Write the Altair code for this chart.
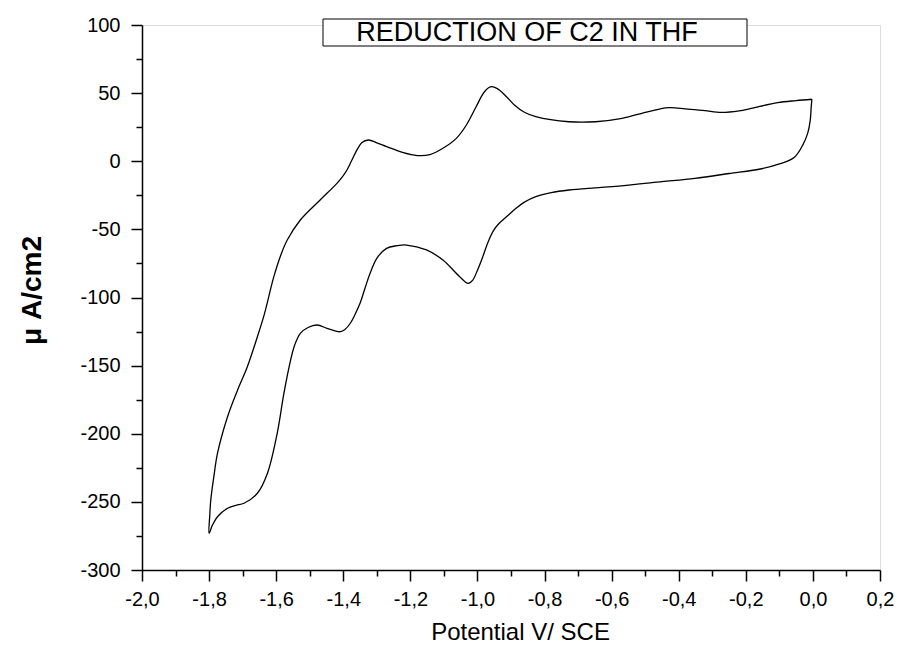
import altair as alt
import pandas as pd

# Cathodic (forward) sweep: 0.0 V -> -1.8 V
fwd_E = [-0.003, -0.005, -0.008, -0.015, -0.03, -0.055, -0.1, -0.153, -0.25, -0.352,
         -0.45, -0.579, -0.65, -0.727, -0.78, -0.826, -0.86, -0.885, -0.91, -0.935,
         -0.95, -0.968, -0.984, -1.0, -1.014, -1.028, -1.053, -1.103,
         -1.152, -1.211, -1.24, -1.271, -1.3, -1.32, -1.335, -1.35, -1.365, -1.379,
         -1.395, -1.409, -1.425, -1.449, -1.478, -1.505, -1.528, -1.545, -1.557, -1.577,
         -1.597, -1.626, -1.656, -1.696, -1.72, -1.745, -1.775, -1.79, -1.8]
fwd_I = [45.5, 40, 30, 21, 12, 3, -2, -5.5, -9, -12.5,
         -15, -18.2, -19.5, -21.1, -23, -26, -30, -34.5, -40, -45.5,
         -50, -59, -70, -80, -87.2, -89.6, -84.7, -72.5,
         -65.1, -61.5, -62, -63.9, -71.2, -82.2, -93, -104.3, -112.5, -118.9,
         -123.5, -125.1, -124.5, -122.6, -120.2, -122, -126.3, -135, -145.9, -170.3,
         -199.7, -229, -243.7, -251, -252.5, -254.7, -260.9, -267, -273]

# Anodic (return) sweep: -1.8 V -> 0.0 V
rev_E = [-1.798, -1.795, -1.785, -1.775, -1.745, -1.715, -1.686, -1.656, -1.635, -1.607,
         -1.585, -1.567, -1.528, -1.469, -1.419, -1.4, -1.389, -1.375, -1.36, -1.345,
         -1.325, -1.3, -1.271, -1.221, -1.18, -1.142, -1.103, -1.063, -1.033, -1.004,
         -0.979, -0.959, -0.935, -0.912, -0.89, -0.86, -0.826, -0.727, -0.648, -0.569,
         -0.49, -0.431, -0.38, -0.322, -0.273, -0.22, -0.184, -0.105, -0.05, -0.003]
rev_I = [-260, -248.6, -230, -214.4, -187.5, -167.9, -150.8, -128.8, -112, -84.7,
         -68, -57.8, -43.1, -28.4, -16.2, -10.5, -6.4, 0.5, 8, 13.5,
         15.6, 13.5, 10.7, 6.3, 4.2, 4.8, 9.5, 16.8, 26.6, 40,
         51, 54.7, 52.3, 47, 41.3, 36, 32.7, 29, 29, 31.5,
         36.4, 39.3, 38.5, 37.1, 35.9, 37, 38.8, 43, 44.5, 45.5]

x_major = [-2.0, -1.8, -1.6, -1.4, -1.2, -1.0, -0.8, -0.6, -0.4, -0.2, 0.0, 0.2]
x_minor = [-1.9, -1.7, -1.5, -1.3, -1.1, -0.9, -0.7, -0.5, -0.3, -0.1, 0.1]
y_major = [-300, -250, -200, -150, -100, -50, 0, 50, 100]
y_minor = [-275, -225, -175, -125, -75, -25, 25, 75]

title_text = ["REDUCTION OF C2 IN THF"]
x_title = "Potential V/ SCE"
y_title = "\u03bc A/cm2"

E = fwd_E + rev_E
I = fwd_I + rev_I
df = pd.DataFrame({"E": E, "I": I, "idx": list(range(len(E)))})

FONT = "Liberation Sans"
xs = alt.Scale(domain=[-2.0, 0.2], nice=False, zero=False)
ys = alt.Scale(domain=[-300, 100], nice=False, zero=False)

x_label_expr = "(datum.value < -1e-9 ? '-' : '') + replace(format(abs(datum.value), '.1f'), '.', ',')"
y_label_expr = "(datum.value < 0 ? '-' : '') + format(abs(datum.value), 'd')"

main = alt.Chart(df).mark_line(color="black", strokeWidth=1.3, interpolate="catmull-rom").encode(
    x=alt.X("E:Q", scale=xs, axis=alt.Axis(
        orient="bottom", values=x_major, labelExpr=x_label_expr, title=x_title,
        titleFont=FONT, titleFontSize=24, titleFontWeight="normal", titleColor="black",
        titleX=378, titleY=69, titleBaseline="alphabetic", titleAlign="center",
        labelFont=FONT, labelFontSize=20, labelColor="black", labelPadding=8,
        tickSize=11, tickWidth=1.5, tickColor="black", domainColor="black", domainWidth=1.5,
        grid=False, labelFlush=False, labelOverlap=False)),
    y=alt.Y("I:Q", scale=ys, axis=alt.Axis(
        orient="left", values=y_major, labelExpr=y_label_expr, title=y_title,
        titleFont=FONT, titleFontSize=28, titleFontWeight="bold", titleColor="black",
        titleX=-102, titleY=265, titleBaseline="alphabetic", titleAngle=270, titleAlign="center",
        labelFont=FONT, labelFontSize=20, labelColor="black", labelPadding=11,
        tickSize=11, tickWidth=1.5, tickColor="black", domainColor="black", domainWidth=1.5,
        grid=False, labelFlush=False, labelOverlap=False)),
    order="idx:Q",
)

minor = alt.Chart(df).mark_line(opacity=0).encode(
    x=alt.X("E:Q", scale=xs, axis=alt.Axis(
        orient="bottom", values=x_minor, labels=False, title=None, domain=False, grid=False,
        tickSize=6, tickWidth=1.5, tickColor="black")),
    y=alt.Y("I:Q", scale=ys, axis=alt.Axis(
        orient="left", values=y_minor, labels=False, title=None, domain=False, grid=False,
        tickSize=6, tickWidth=1.5, tickColor="black")),
    order="idx:Q",
)

tdf = pd.DataFrame({"t": title_text})
box = alt.Chart(tdf).mark_rect(fill="white", stroke="black", strokeWidth=1).encode(
    x=alt.value(181), x2=alt.value(605), y=alt.value(-6), y2=alt.value(21)
)
ttl = alt.Chart(tdf).mark_text(font=FONT, fontSize=27, color="black", align="center", baseline="middle").encode(
    text="t:N", x=alt.value(385), y=alt.value(8)
)

chart = alt.layer(main, minor, box, ttl).resolve_axis(x="independent", y="independent").properties(
    width=738, height=545,
    autosize=alt.AutoSizeParams(type="none"),
    padding={"left": 134, "top": 17, "right": 16, "bottom": 75},
).configure_view(stroke=None).configure(background="white")

chart.save("out.html", embed_options={"renderer": "svg", "actions": False})
